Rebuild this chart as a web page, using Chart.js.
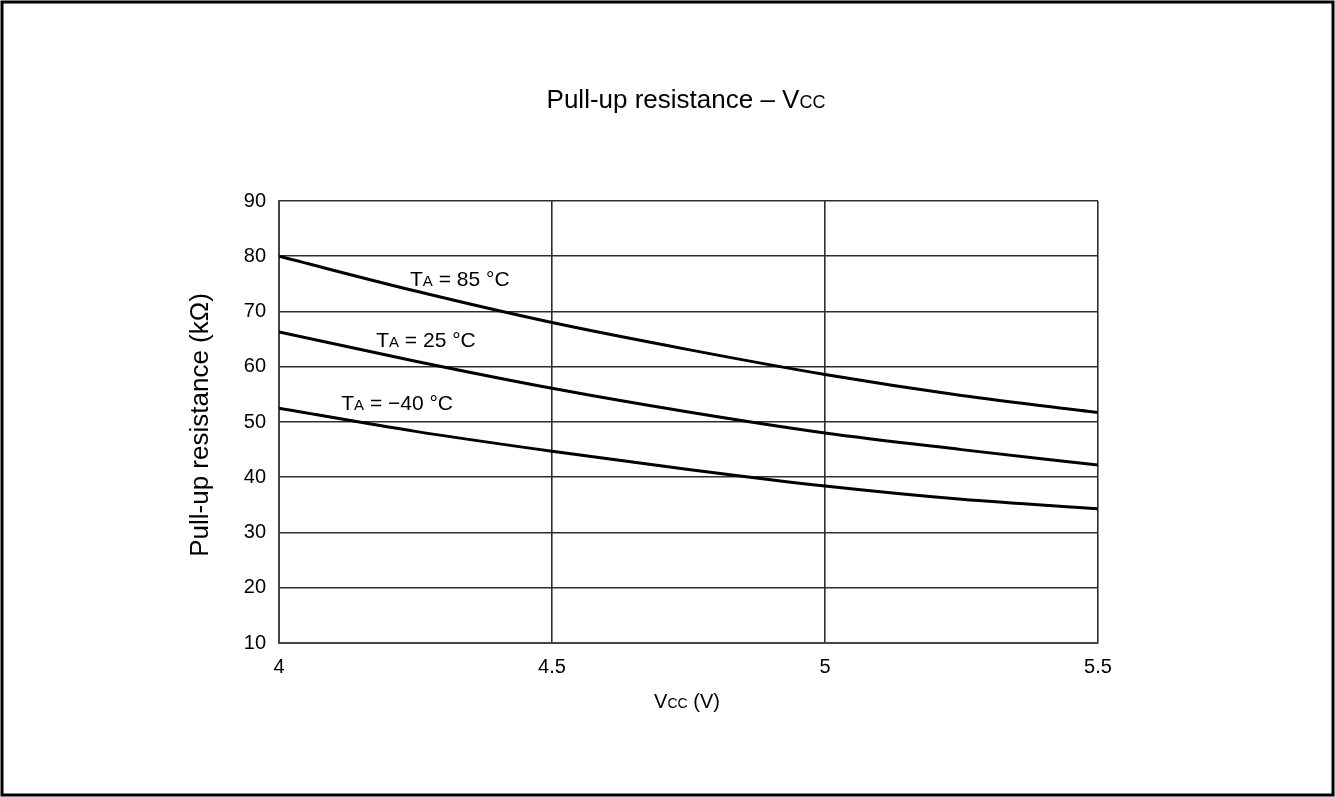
<!DOCTYPE html>
<html>
<head>
<meta charset="utf-8">
<title>Pull-up resistance - Vcc</title>
<script src="https://cdn.jsdelivr.net/npm/chart.js@4.4.1/dist/chart.umd.min.js"></script>
<style>
    html, body { margin: 0; padding: 0; background: #fff; }
    #wrap { position: relative; width: 1335px; height: 797px; }
</style>
</head>
<body>
<div id="wrap"><canvas id="grafica"></canvas></div>
<script>
// Vcc (V) en el eje X, resistencia (kΩ) en el eje Y
const vcc = [4.0, 4.25, 4.5, 4.75, 5.0, 5.25, 5.5];
const r85 = [80.0, 73.7, 68.0, 63.1, 58.6, 54.8, 51.7];
const r25 = [66.3, 61.0, 56.1, 51.8, 48.0, 45.0, 42.2];
const rMenos40 = [52.5, 48.3, 44.7, 41.4, 38.4, 36.0, 34.3];
const temperaturas = ['85', '25', '\u221240'];
const ticksX = [4, 4.5, 5, 5.5];

const FUENTE = "'Liberation Sans', Arial, sans-serif";
const GRIS = '#2e2e2e';

// donde va cada etiqueta de temperatura (en unidades de datos)
const posEtiquetas = [
    { v: 4.24, r: 75.9 },
    { v: 4.178, r: 64.9 },
    { v: 4.114, r: 53.5 }
];

function serie(valores) {
    return {
        data: vcc.map((v, i) => ({ x: v, y: valores[i] })),
        borderColor: '#000',
        borderWidth: 3,
        pointRadius: 0,
        fill: false,
        cubicInterpolationMode: 'monotone'
    };
}

// escribe trozos de texto seguidos con tamaños distintos (para los subíndices)
function textoMixto(ctx, trozos, x, y, alinear) {
    let ancho = 0;
    trozos.forEach(t => {
        ctx.font = t.size + 'px ' + FUENTE;
        ancho += ctx.measureText(t.txt).width;
    });
    let cx = alinear === 'center' ? x - ancho / 2 : x;
    trozos.forEach(t => {
        ctx.font = t.size + 'px ' + FUENTE;
        ctx.fillText(t.txt, cx, y);
        cx += ctx.measureText(t.txt).width;
    });
}

const textos = {
    id: 'textos',
    afterDraw(chart) {
        const ctx = chart.ctx;
        const sx = chart.scales.x, sy = chart.scales.y;
        ctx.save();
        ctx.fillStyle = '#000';
        ctx.textAlign = 'left';
        ctx.textBaseline = 'alphabetic';

        // titulo
        textoMixto(ctx, [
            { txt: 'Pull-up resistance \u2013 V', size: 26 },
            { txt: 'CC', size: 18 }
        ], 686, 108, 'center');

        // titulo eje X
        textoMixto(ctx, [
            { txt: 'V', size: 20 },
            { txt: 'CC', size: 14 },
            { txt: ' (V)', size: 20 }
        ], 687, 708, 'center');

        // titulo eje Y (girado)
        ctx.save();
        ctx.translate(208, 425);
        ctx.rotate(-Math.PI / 2);
        textoMixto(ctx, [{ txt: 'Pull-up resistance (k\u03a9)', size: 26 }], 0, 0, 'center');
        ctx.restore();

        // etiquetas de las curvas
        posEtiquetas.forEach((p, i) => {
            const x = sx.getPixelForValue(p.v);
            const y = sy.getPixelForValue(p.r) + 7;
            textoMixto(ctx, [
                { txt: 'T', size: 21 },
                { txt: 'A', size: 15 },
                { txt: ' = ' + temperaturas[i] + ' \u00b0C', size: 21 }
            ], x, y, 'left');
        });

        // marco exterior
        ctx.strokeStyle = '#000';
        ctx.lineWidth = 3;
        ctx.strokeRect(2, 2, 1331, 793);
        ctx.restore();
    }
};

const ctxGrafica = document.getElementById('grafica').getContext('2d');
new Chart(ctxGrafica, {
    type: 'line',
    data: {
        datasets: [serie(r85), serie(r25), serie(rMenos40)]
    },
    options: {
        responsive: true,
        maintainAspectRatio: false,
        animation: false,
        layout: { padding: { left: 0, top: 201, right: 237, bottom: 0 } },
        plugins: {
            legend: { display: false },
            tooltip: { enabled: false }
        },
        scales: {
            x: {
                type: 'linear',
                min: 4,
                max: 5.5,
                afterBuildTicks: s => { s.ticks = ticksX.map(v => ({ value: v })); },
                afterFit: s => { s.height = 154; },
                grid: { color: GRIS, lineWidth: 1.6, drawTicks: false },
                border: { color: '#444', width: 2 },
                ticks: {
                    padding: 12,
                    color: '#000',
                    font: { family: FUENTE, size: 20 },
                    callback: v => String(v)
                }
            },
            y: {
                min: 10,
                max: 90,
                afterFit: s => { s.width = 279; },
                grid: { color: GRIS, lineWidth: 1.6, drawTicks: false },
                border: { color: '#444', width: 2 },
                ticks: {
                    stepSize: 10,
                    padding: 13,
                    color: '#000',
                    font: { family: FUENTE, size: 20 }
                }
            }
        }
    },
    plugins: [textos]
});
</script>
</body>
</html>
